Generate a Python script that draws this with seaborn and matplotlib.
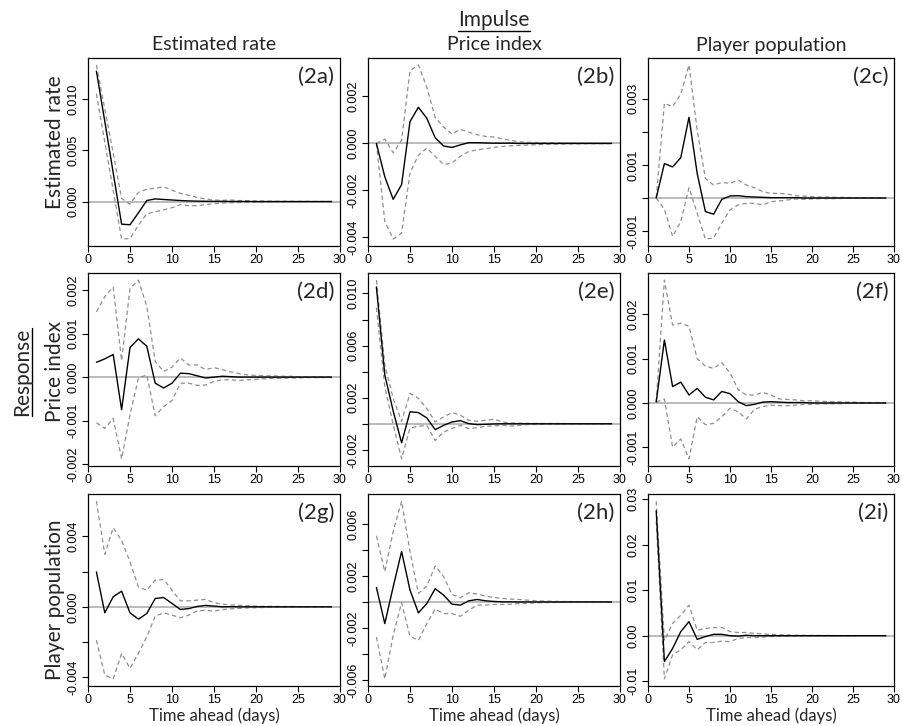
import matplotlib
matplotlib.use("Agg")
import matplotlib.pyplot as plt
import seaborn as sns
from matplotlib.lines import Line2D

sns.set_style("ticks")
plt.rcParams['font.family'] = ['Liberation Sans', 'DejaVu Sans']
plt.rcParams['axes.unicode_minus'] = False

# ---------------- data ----------------
horizon = list(range(1, 30))
variables = ["Estimated rate", "Price index", "Player population"]
x_ticks = [0, 5, 10, 15, 20, 25, 30]

# (2a) response: Estimated rate, impulse: Estimated rate
irf_2a = [0.0127, 0.0078, 0.0028, -0.0022, -0.00226, -0.0011, 0.0001, 0.00026, 0.0002, 0.00015,
          0.0001, 0.00006, 0.00004, 0.00003, 0.00002, 0.00002, 0.00001, 0.00001, 0.00001, 0.0,
          0.0, 0.0, 0.0, 0.0, 0.0, 0.0, 0.0, 0.0, 0.0]
up_2a = [0.0133, 0.0090, 0.0047, 0.0003, -0.00026, 0.0009, 0.0012, 0.0013, 0.00144, 0.0011,
         0.0008, 0.0006, 0.0004, 0.00025, 0.00015, 0.00012, 0.00015, 0.0001, 0.00008, 0.00006,
         0.00005, 0.00004, 0.00003, 0.00003, 0.00002, 0.00002, 0.00001, 0.00001, 0.00001]
lo_2a = [0.0105, 0.0058, 0.0011, -0.00365, -0.0036, -0.0023, -0.0012, -0.001, -0.0008, -0.0006,
         -0.0003, -0.0004, -0.0004, -0.0003, -0.0002, -0.00015, -0.00012, -0.0001, -0.00008, -0.00006,
         -0.00005, -0.00004, -0.00003, -0.00003, -0.00002, -0.00002, -0.00001, -0.00001, -0.00001]
yt_2a = [0.0, 0.005, 0.010]
yl_2a = ["0.000", "0.005", "0.010"]

# (2b) response: Estimated rate, impulse: Price index
irf_2b = [0.0, -0.00142, -0.00238, -0.00175, 0.00093, 0.00154, 0.00107, 0.00024, -0.00011, -0.00017,
          -0.00006, 0.00003, 0.00003, 0.00002, 0.00001, 0.00001, 0.00001, 0.0, 0.0, 0.0,
          0.0, 0.0, 0.0, 0.0, 0.0, 0.0, 0.0, 0.0, 0.0]
up_2b = [0.0, 0.00018, -0.0004, 0.00013, 0.0031, 0.00334, 0.0024, 0.0011, 0.0007, 0.0004,
         0.0006, 0.00048, 0.00037, 0.0003, 0.00027, 0.0002, 0.00013, 0.00007, 0.00005, 0.00004,
         0.00003, 0.00003, 0.00002, 0.00002, 0.00001, 0.00001, 0.00001, 0.00001, 0.00001]
lo_2b = [0.0, -0.00332, -0.00407, -0.00382, -0.00125, -0.0005, -0.0002, -0.00055, -0.0009, -0.00083,
         -0.00055, -0.00034, -0.00027, -0.00023, -0.00017, -0.00013, -0.0001, -0.00008, -0.00007, -0.00006,
         -0.00004, -0.00003, -0.00003, -0.00002, -0.00002, -0.00001, -0.00001, -0.00001, -0.00001]
yt_2b = [-0.004, -0.002, 0.0, 0.002]
yl_2b = ["-0.004", "-0.002", "0.000", "0.002"]

# (2c) response: Estimated rate, impulse: Player population
irf_2c = [0.0, 0.00104, 0.00094, 0.00122, 0.00244, 0.00074, -0.00041, -0.00049, -0.00004, 0.00006,
          0.00007, 0.00004, 0.00003, 0.00002, 0.00001, 0.00001, 0.00001, 0.00001, 0.0, 0.0,
          0.0, 0.0, 0.0, 0.0, 0.0, 0.0, 0.0, 0.0, 0.0]
up_2c = [0.0, 0.00286, 0.00276, 0.00314, 0.00402, 0.00204, 0.00059, 0.00039, 0.00047, 0.00044,
         0.00054, 0.00039, 0.00031, 0.00019, 0.00014, 0.00014, 0.00012, 0.00007, 0.00006, 0.00004,
         0.00003, 0.00003, 0.00002, 0.00002, 0.00001, 0.00001, 0.00001, 0.00001, 0.00001]
lo_2c = [0.0, -0.00034, -0.00116, -0.00071, 0.00031, -0.00046, -0.00124, -0.00121, -0.00076, -0.00036,
         -0.00021, -0.00016, -0.00016, -0.00021, -0.00011, -0.00009, -0.00006, -0.00003, -0.00004, -0.00003,
         -0.00002, -0.00002, -0.00002, -0.00001, -0.00001, -0.00001, -0.00001, 0.0, 0.0]
yt_2c = [-0.001, 0.0, 0.001, 0.002, 0.003]
yl_2c = ["-0.001", "", "0.001", "", "0.003"]

# (2d) response: Price index, impulse: Estimated rate
irf_2d = [0.00034, 0.00042, 0.00052, -0.00075, 0.00068, 0.00088, 0.00071, -0.00014, -0.00025, -0.00014,
          0.00009, 0.00008, 0.00003, -0.00002, 0.0, 0.00002, 0.00001, 0.0, 0.0, 0.0,
          0.0, 0.0, 0.0, 0.0, 0.0, 0.0, 0.0, 0.0, 0.0]
up_2d = [0.0015, 0.00185, 0.00207, 0.00038, 0.00204, 0.00223, 0.00163, 0.00036, 0.00013, 0.00023,
         0.00044, 0.00028, 0.00028, 0.00017, 0.00022, 0.00017, 0.00012, 0.00008, 0.00005, 0.00004,
         0.00003, 0.00003, 0.00002, 0.00002, 0.00001, 0.00001, 0.00001, 0.00001, 0.00001]
lo_2d = [-0.00105, -0.00118, -0.00095, -0.00188, -0.00087, -0.00002, 0.00005, -0.00089, -0.00068, -0.00054,
         -0.00014, -0.00014, -0.00019, -0.00018, -0.0001, -0.00006, -0.00006, -0.00008, -0.00006, -0.00005,
         -0.00004, -0.00003, -0.00003, -0.00002, -0.00002, -0.00001, -0.00001, -0.00001, -0.00001]
yt_2d = [-0.002, -0.001, 0.0, 0.001, 0.002]
yl_2d = ["-0.002", "-0.001", "0.000", "0.001", "0.002"]

# (2e) response: Price index, impulse: Price index
irf_2e = [0.0105, 0.00375, 0.00097, -0.00146, 0.00092, 0.00086, 0.00045, -0.00045, -0.00012, 0.00014,
          0.00024, 0.00001, -0.00006, -0.00004, -0.00001, 0.0, 0.0, 0.0, 0.0, 0.0,
          0.0, 0.0, 0.0, 0.0, 0.0, 0.0, 0.0, 0.0, 0.0]
up_2e = [0.01102, 0.00452, 0.00195, 0.00019, 0.00233, 0.00195, 0.00117, 0.00014, 0.00053, 0.00086,
         0.00066, 0.00027, 0.00019, 0.00027, 0.00035, 0.00014, 0.00006, 0.00005, 0.00003, 0.00003,
         0.00002, 0.00002, 0.00002, 0.00001, 0.00001, 0.00001, 0.00001, 0.00001, 0.00001]
lo_2e = [0.0089, 0.00285, -0.00006, -0.00269, -0.00032, -0.00019, -0.00012, -0.00128, -0.00063, -0.00037,
         -0.00012, -0.00037, -0.0003, -0.00019, -0.00017, -0.00012, -0.00017, -0.00012, -0.00006, -0.00005,
         -0.00004, -0.00003, -0.00003, -0.00002, -0.00002, -0.00001, -0.00001, -0.00001, -0.00001]
yt_2e = [-0.002, 0.0, 0.002, 0.004, 0.006, 0.008, 0.010]
yl_2e = ["-0.002", "", "0.002", "", "0.006", "", "0.010"]

# (2f) response: Price index, impulse: Player population
irf_2f = [0.00002, 0.00142, 0.00037, 0.00047, 0.00018, 0.00033, 0.00013, 0.00007, 0.00026, 0.00021,
          0.00003, -0.00006, -0.00003, 0.00002, 0.00003, 0.00002, 0.00001, 0.00001, 0.00001, 0.0,
          0.0, 0.0, 0.0, 0.0, 0.0, 0.0, 0.0, 0.0, 0.0]
up_2f = [0.00002, 0.00277, 0.00176, 0.0018, 0.00173, 0.001, 0.00083, 0.00078, 0.00091, 0.00068,
         0.0003, 0.00018, 0.00018, 0.00024, 0.00018, 0.00009, 0.00008, 0.00007, 0.00005, 0.00005,
         0.00004, 0.00003, 0.00003, 0.00002, 0.00002, 0.00001, 0.00001, 0.00001, 0.00001]
lo_2f = [0.00002, 0.00009, -0.001, -0.00081, -0.00126, -0.00031, -0.00049, -0.00046, -0.00031, -0.00012,
         -0.0002, -0.00036, -0.00014, -0.00008, -0.00005, -0.00006, -0.00006, -0.00005, -0.00003, -0.00003,
         -0.00002, -0.00002, -0.00002, -0.00001, -0.00001, -0.00001, -0.00001, 0.0, 0.0]
yt_2f = [-0.001, 0.0, 0.001, 0.002]
yl_2f = ["-0.001", "0.000", "0.001", "0.002"]

# (2g) response: Player population, impulse: Estimated rate
irf_2g = [0.00198, -0.00034, 0.00057, 0.00089, -0.00034, -0.0007, -0.00038, 0.00047, 0.00053, 0.00019,
          -0.00015, -0.0001, 0.00002, 0.00008, 0.00004, 0.0, 0.00001, 0.0, 0.0, 0.0,
          0.0, 0.0, 0.0, 0.0, 0.0, 0.0, 0.0, 0.0, 0.0]
up_2g = [0.006, 0.00298, 0.00449, 0.00377, 0.00255, 0.00113, 0.00094, 0.00151, 0.00155, 0.00094,
         0.00034, 0.00034, 0.00038, 0.00042, 0.00023, 0.00015, 0.00011, 0.00009, 0.00006, 0.00004,
         0.00003, 0.00003, 0.00002, 0.00002, 0.00001, 0.00001, 0.00001, 0.00001, 0.00001]
lo_2g = [-0.00189, -0.00387, -0.00409, -0.00264, -0.00349, -0.00264, -0.0017, -0.00053, -0.00034, -0.00047,
         -0.00062, -0.00047, -0.00023, -0.00019, -0.00025, -0.00015, -0.00011, -0.00009, -0.00006, -0.00005,
         -0.00004, -0.00003, -0.00003, -0.00002, -0.00002, -0.00001, -0.00001, -0.00001, -0.00001]
yt_2g = [-0.004, -0.002, 0.0, 0.002, 0.004]
yl_2g = ["-0.004", "", "0.000", "", "0.004"]

# (2h) response: Player population, impulse: Price index
irf_2h = [0.00112, -0.00166, 0.00117, 0.00388, 0.00091, -0.00084, -0.00012, 0.00102, 0.00053, -0.00017,
          -0.00024, 0.00009, 0.00019, 0.00009, 0.00004, 0.00001, 0.00001, 0.0, 0.0, 0.0,
          0.0, 0.0, 0.0, 0.0, 0.0, 0.0, 0.0, 0.0, 0.0]
up_2h = [0.00509, 0.00233, 0.00542, 0.00775, 0.00388, 0.00066, 0.00122, 0.00277, 0.00195, 0.00058,
         0.00032, 0.00071, 0.00061, 0.00045, 0.00035, 0.00027, 0.00022, 0.00019, 0.00014, 0.00009,
         0.00007, 0.00005, 0.00004, 0.00003, 0.00002, 0.00002, 0.00001, 0.00001, 0.00001]
lo_2h = [-0.00269, -0.00591, -0.00256, -0.00006, -0.00264, -0.00295, -0.00166, -0.00055, -0.00089, -0.00089,
         -0.0011, -0.00063, -0.00024, -0.00024, -0.00019, -0.00019, -0.00017, -0.00012, -0.00012, -0.00006,
         -0.00005, -0.00004, -0.00003, -0.00003, -0.00002, -0.00002, -0.00001, -0.00001, -0.00001]
yt_2h = [-0.006, -0.004, -0.002, 0.0, 0.002, 0.004, 0.006]
yl_2h = ["-0.006", "", "-0.002", "", "0.002", "", "0.006"]

# (2i) response: Player population, impulse: Player population
irf_2i = [0.0275, -0.0057, -0.0028, 0.0009, 0.0031, -0.0008, -0.0002, 0.0003, 0.0003, 0.0,
          -0.0001, 0.0001, 0.0, 0.0, 0.0, 0.0, 0.0, 0.0, 0.0, 0.0,
          0.0, 0.0, 0.0, 0.0, 0.0, 0.0, 0.0, 0.0, 0.0]
up_2i = [0.0296, -0.001, 0.0027, 0.0045, 0.0067, 0.0012, 0.0016, 0.0018, 0.0018, 0.0009,
         0.0007, 0.0007, 0.0005, 0.0004, 0.0003, 0.0002, 0.00015, 0.0001, 0.00008, 0.00006,
         0.00005, 0.00004, 0.00003, 0.00002, 0.00002, 0.00001, 0.00001, 0.00001, 0.00001]
lo_2i = [0.0253, -0.0095, -0.0042, -0.0031, -0.0013, -0.0031, -0.0015, -0.0015, -0.0012, -0.0013,
         -0.0006, -0.0004, -0.0004, -0.0003, -0.0002, -0.00015, -0.00012, -0.0001, -0.00008, -0.00006,
         -0.00005, -0.00004, -0.00003, -0.00002, -0.00002, -0.00001, -0.00001, -0.00001, -0.00001]
yt_2i = [-0.01, 0.0, 0.01, 0.02, 0.03]
yl_2i = ["-0.01", "0.00", "0.01", "0.02", "0.03"]

# grid of panels: rows = response, cols = impulse
panels = [
    [("(2a)", irf_2a, up_2a, lo_2a, yt_2a, yl_2a),
     ("(2b)", irf_2b, up_2b, lo_2b, yt_2b, yl_2b),
     ("(2c)", irf_2c, up_2c, lo_2c, yt_2c, yl_2c)],
    [("(2d)", irf_2d, up_2d, lo_2d, yt_2d, yl_2d),
     ("(2e)", irf_2e, up_2e, lo_2e, yt_2e, yl_2e),
     ("(2f)", irf_2f, up_2f, lo_2f, yt_2f, yl_2f)],
    [("(2g)", irf_2g, up_2g, lo_2g, yt_2g, yl_2g),
     ("(2h)", irf_2h, up_2h, lo_2h, yt_2h, yl_2h),
     ("(2i)", irf_2i, up_2i, lo_2i, yt_2i, yl_2i)],
]

# ---------------- layout ----------------
W, H = 903, 726
fig = plt.figure(figsize=(W / 100, H / 100), dpi=100)
TITLE_FONT = ['Lato', 'DejaVu Sans']

col_left = [88, 368, 648]
col_w = [252, 252, 246]
row_top = [58, 273, 494]
row_bot = [246, 466, 686]

BAND = "#8f8f8f"
ZERO = "#b5b5b5"

for r in range(3):
    for c in range(3):
        tag, irf, up, lo, yt, yl = panels[r][c]
        ax = fig.add_axes([col_left[c] / W, 1 - row_bot[r] / H,
                           col_w[c] / W, (row_bot[r] - row_top[r]) / H])
        ax.axhline(0, color=ZERO, lw=1.3, zorder=1)
        sns.lineplot(x=horizon, y=up, ax=ax, color=BAND, lw=0.9,
                     linestyle=(0, (3.5, 2.5)), errorbar=None, zorder=2)
        sns.lineplot(x=horizon, y=lo, ax=ax, color=BAND, lw=0.9,
                     linestyle=(0, (3.5, 2.5)), errorbar=None, zorder=2)
        sns.lineplot(x=horizon, y=irf, ax=ax, color="black", lw=1.0,
                     errorbar=None, zorder=3)
        ax.margins(x=0, y=0.04)
        ax.autoscale_view()
        ax.set_xlim(0, 30)
        ax.set_xticks(x_ticks)
        ax.set_xticklabels([str(t) for t in x_ticks])
        ax.set_yticks(yt)
        ax.set_yticklabels(yl, rotation=90, va="center")
        ax.tick_params(axis="both", direction="out", length=4, width=0.8,
                       labelsize=9, pad=2, colors="black")
        for s in ax.spines.values():
            s.set_color("black")
            s.set_linewidth(0.9)
        ax.set_xlabel("")
        ax.set_ylabel("")
        ax.text(0.978, 0.955, tag, transform=ax.transAxes, ha="right", va="top",
                fontsize=16, family=TITLE_FONT)
        if r == 2:
            ax.set_xlabel("Time ahead (days)", fontsize=12, family=TITLE_FONT,
                          labelpad=1)

# column titles (impulse variables)
for c in range(3):
    cx = (col_left[c] + col_w[c] / 2) / W
    fig.text(cx, 1 - 45 / H, variables[c], ha="center", va="center",
             fontsize=14, family=TITLE_FONT)

# row labels (response variables)
row_label_y = [142, 371, 600]
for r in range(3):
    fig.text(55 / W, 1 - row_label_y[r] / H, variables[r], rotation=90,
             ha="center", va="center", fontsize=15, family=TITLE_FONT)

t_imp = fig.text(494 / W, 1 - 20 / H, "Impulse", ha="center", va="center",
                 fontsize=15, family=TITLE_FONT)
t_resp = fig.text(22 / W, 1 - 372 / H, "Response", rotation=90, ha="center",
                  va="center", fontsize=15, family=TITLE_FONT)

fig.canvas.draw()
rend = fig.canvas.get_renderer()
bb = t_imp.get_window_extent(rend)
yline = (bb.y0 - 0.5) / H
fig.add_artist(Line2D([bb.x0 / W, bb.x1 / W], [yline, yline],
                      color="black", lw=1.0, transform=fig.transFigure))
bb = t_resp.get_window_extent(rend)
xline = (bb.x1 + 0.5) / W
fig.add_artist(Line2D([xline, xline], [bb.y0 / H, bb.y1 / H],
                      color="black", lw=1.0, transform=fig.transFigure))

fig.savefig("out.png", dpi=100)
